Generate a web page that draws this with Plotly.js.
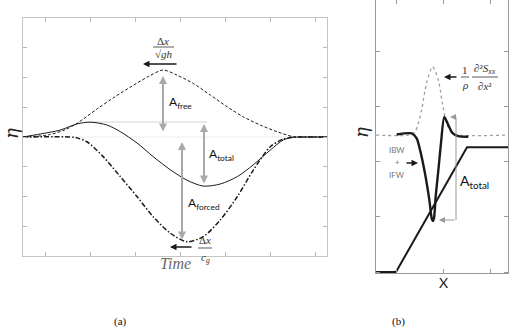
<!DOCTYPE html>
<html><head><meta charset="utf-8">
<script src="https://cdn.plot.ly/plotly-3.0.1.min.js"></script>
<style>html,body{margin:0;padding:0;background:#fff}#c{width:509px;height:327px}</style>
</head><body><div id="c"></div>
<script>
// ---- Panel (a): time series of eta (arbitrary units) ----
const freeT    = [0, 0.56, 0.93, 1.22, 1.67, 2.04, 2.42, 2.78, 3.11, 3.42, 3.78, 4.16, 4.53, 4.89, 5.27, 5.64, 6.0, 6.2, 6.75];
const freeEta  = [0, 0.07, 0.24, 0.48, 0.97, 1.35, 1.71, 2.03, 2.25, 2.08, 1.80, 1.41, 1.02, 0.68, 0.40, 0.18, 0.01, 0, 0];
const totalT   = [0, 0.38, 0.82, 1.2, 1.49, 1.87, 2.16, 2.53, 2.89, 3.27, 3.64, 4.0, 4.38, 4.76, 5.11, 5.49, 5.78, 6.0, 6.2, 6.75];
const totalEta = [0, 0.1, 0.23, 0.44, 0.5, 0.4, 0.18, -0.2, -0.66, -1.1, -1.45, -1.65, -1.58, -1.33, -0.94, -0.44, -0.1, -0.01, 0, 0];
const forcedT  = [0, 1.04, 1.2, 1.42, 1.78, 2.16, 2.53, 2.89, 3.27, 3.64, 4.0, 4.38, 4.76, 5.11, 5.49, 5.78, 6.0, 6.2, 6.75];
const forcedEta= [0, 0, -0.03, -0.16, -0.66, -1.33, -2.0, -2.68, -3.23, -3.52, -3.35, -2.79, -2.0, -1.12, -0.33, -0.07, -0.01, 0, 0];

// ---- Panel (b): spatial profile ----
const forcingX = [0.574, 1.262, 1.404, 1.475, 1.546, 1.652, 1.780, 1.901, 1.986, 2.078, 2.184, 2.291, 3.383];
const forcingY = [2.49, 2.49, 2.55, 2.70, 2.95, 3.44, 3.73, 3.49, 3.07, 2.70, 2.53, 2.49, 2.49];
const waveX = [1.014, 1.334, 1.44, 1.511, 1.617, 1.709, 1.759, 1.784, 1.809, 1.844, 1.901, 1.957, 2.028, 2.113, 2.199, 2.326, 2.539];
const waveY = [2.50, 2.52, 2.43, 2.22, 1.79, 1.31, 0.98, 0.93, 0.98, 1.37, 1.85, 2.34, 2.82, 2.67, 2.53, 2.47, 2.46];
const bathyX = [0.574, 1.0, 2.511, 3.383];
const bathyY = [0, 0, 2.27, 2.27];

const W = 509, H = 327;
const P = (px, py) => ({xref:'paper', yref:'paper', x: px / W, y: 1 - py / H});
const ink = '#1a1a1a', gArrow = '#a9a9a9';

const traces = [
  {x: freeT, y: freeEta, mode:'lines', line:{color:ink, width:1, dash:'3px,2px', shape:'spline', smoothing:0.8}, xaxis:'x', yaxis:'y', hoverinfo:'skip'},
  {x: forcedT, y: forcedEta, mode:'lines', line:{color:ink, width:1.5, dash:'5px,2px,1.5px,2px', shape:'spline', smoothing:0.8}, xaxis:'x', yaxis:'y', hoverinfo:'skip'},
  {x: totalT, y: totalEta, mode:'lines', line:{color:ink, width:1, shape:'spline', smoothing:0.8}, xaxis:'x', yaxis:'y', hoverinfo:'skip'},
  {x: forcingX, y: forcingY, mode:'lines', line:{color:'#a0a0a0', width:1.3, dash:'dot', shape:'spline', smoothing:0.8}, xaxis:'x2', yaxis:'y2', hoverinfo:'skip'},
  {x: bathyX, y: bathyY, mode:'lines', line:{color:ink, width:2}, xaxis:'x2', yaxis:'y2', hoverinfo:'skip'},
  {x: waveX, y: waveY, mode:'lines', line:{color:ink, width:2.4, shape:'spline', smoothing:0.7}, xaxis:'x2', yaxis:'y2', hoverinfo:'skip'}
];

const axA = {showticklabels:false, showgrid:false, zeroline:false, showline:true, linecolor:'#c4c4c4', linewidth:1,
  mirror:'ticks', ticks:'inside', ticklen:4, tickcolor:'#b8b8b8', tickwidth:1};
const axB = Object.assign({}, axA, {linecolor:'#9a9a9a', tickcolor:'#9a9a9a'});

const txt = (px, py, text, o) => Object.assign(P(px, py), {text, showarrow:false, xanchor:'center', yanchor:'middle',
  font:{family:'Lato, "Open Sans", sans-serif', size:12, color:'#111'}}, o || {});
const arr = (px, py, ax, ay, o) => Object.assign(P(px, py), {text:'', showarrow:true, ax, ay, axref:'pixel', ayref:'pixel',
  arrowcolor:ink, arrowwidth:1.3, arrowhead:2, arrowsize:1, standoff:0}, o || {});
const dbl = (px, y1, y2) => arr(px, y1, 0, y2 - y1, {arrowcolor:gArrow, arrowwidth:2, arrowside:'end+start', arrowsize:0.8, startarrowsize:0.8, startarrowhead:2});
const serif = {family:'"Liberation Serif", "DejaVu Serif", serif', size:11, color:'#333'};

const annotations = [
  dbl(163, 76, 133), dbl(204, 124, 185), dbl(182, 142, 241),
  txt(167, 102, 'A<sub>free</sub>', {xanchor:'left'}),
  txt(207, 154, 'A<sub>total</sub>', {xanchor:'left'}),
  txt(186, 203, 'A<sub>forced</sub>', {xanchor:'left'}),
  arr(143, 64, 35, 0),
  txt(163, 41, 'Δ<i>x</i>', {font:serif}),
  txt(164, 54, '√<i>gh</i>', {font:serif}),
  arr(170, 247, 23, 0),
  txt(205, 240, 'Δ<i>x</i>', {font:serif}),
  txt(205, 258, '<i>c<sub>g</sub></i>', {font:serif}),
  txt(175, 263, '<i>Time</i>', {font:{family:'"Liberation Serif", serif', size:16, color:'#6a6a6a'}}),
  txt(11, 134, '<i>η</i>', {textangle:-90, font:{family:'"DejaVu Serif", serif', size:18, color:'#222'}}),
  txt(362, 133, '<i>η</i>', {textangle:-90, font:{family:'"DejaVu Serif", serif', size:18, color:'#222'}}),
  txt(443, 282, 'X', {font:{family:'Lato, sans-serif', size:14, color:'#222'}}),
  txt(120, 321, '(a)', {font:{family:'"Liberation Serif", serif', size:11, color:'#111'}}),
  txt(398, 321, '(b)', {font:{family:'"Liberation Serif", serif', size:11, color:'#111'}}),
  // panel b
  arr(444, 77, 14, 0),
  txt(465, 70, '1', {font:serif}),
  txt(465, 85, '<i>ρ</i>', {font:serif}),
  txt(485, 69, '∂²<i>S<sub>xx</sub></i>', {font:serif}),
  txt(485, 86, '∂<i>x</i>²', {font:serif}),
  arr(418, 163, -13, 0),
  txt(397, 150, 'IBW', {font:{family:'Lato, sans-serif', size:8, color:'#777'}}),
  txt(397, 162, '+', {font:{family:'Lato, sans-serif', size:8, color:'#777'}}),
  txt(397, 175, 'IFW', {font:{family:'Lato, sans-serif', size:8, color:'#777'}}),
  arr(450, 117, 6, 0, {arrowcolor:'#9a9a9a', arrowwidth:1, arrowsize:1.2}),
  arr(439, 220, 17, 0, {arrowcolor:'#9a9a9a', arrowwidth:1, arrowsize:1.2}),
  txt(458, 181, 'A<sub>total</sub>', {xanchor:'left', font:{family:'Lato, sans-serif', size:14, color:'#111'}})
];

const line = (x0, y0, x1, y1, color, width, layer) => ({type:'line', xref:'paper', yref:'paper',
  x0: x0 / W, y0: 1 - y0 / H, x1: x1 / W, y1: 1 - y1 / H, line:{color, width}, layer: layer || 'above'});
const shapes = [
  line(23, 137, 327, 137, '#ececec', 1, 'below'),
  line(90, 122, 207, 122, '#d2d2d2', 1, 'below'),
  line(153, 47, 174, 47, '#333', 0.8),
  line(198, 248, 212, 248, '#333', 0.8),
  line(461, 77, 469, 77, '#333', 0.8),
  line(472, 77, 498, 77, '#333', 0.8),
  line(456, 117, 456, 220, '#9a9a9a', 1)
];

const layout = {
  width: W, height: H, margin:{l:0, r:0, t:0, b:0}, showlegend:false,
  paper_bgcolor:'#fff', plot_bgcolor:'#fff',
  xaxis: Object.assign({}, axA, {domain:[23/W, 327/W], range:[0, 6.75], tick0:0.5, dtick:1}),
  yaxis: Object.assign({}, axA, {domain:[(H-256)/H, (H-18)/H], range:[-4, 4], tick0:0, dtick:1}),
  xaxis2: Object.assign({}, axB, {anchor:'y2', domain:[376/W, 508/W], range:[0.5745, 3.383], tick0:1, dtick:1}),
  yaxis2: Object.assign({}, axB, {anchor:'x2', domain:[(H-273.1)/H, 1], range:[-0.02, 4.945], tick0:0, dtick:1}),
  annotations, shapes
};
Plotly.newPlot('c', traces, layout, {staticPlot:true, displayModeBar:false});
</script></body></html>
